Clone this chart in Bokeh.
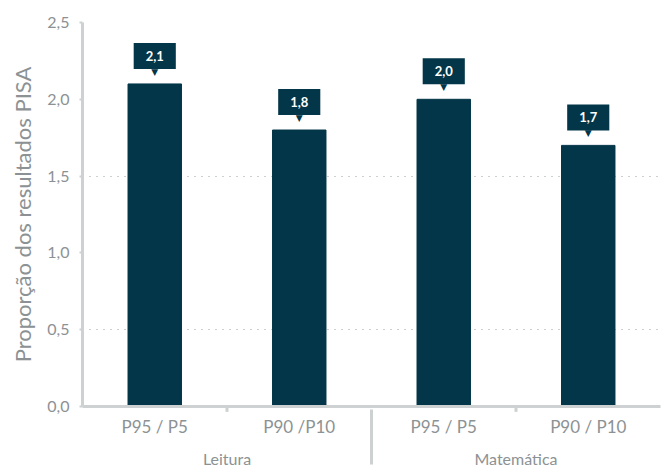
from bokeh.plotting import figure
from bokeh.models import FactorRange, Range1d, FixedTicker, ColumnDataSource
from bokeh.core.properties import value
from bokeh.embed import file_html
from bokeh.resources import INLINE

groups = ["Leitura", "Leitura", "Matemática", "Matemática"]
subcats = ["P95 / P5", "P90 /P10", "P95 / P5", "P90 / P10"]
values = [2.1, 1.8, 2.0, 1.7]
value_labels = ["2,1", "1,8", "2,0", "1,7"]
y_ticks = [0.0, 0.5, 1.0, 1.5, 2.0, 2.5]
y_tick_labels = ["0,0", "0,5", "1,0", "1,5", "2,0", "2,5"]
grid_values = [0.5, 1.5, 2.5]

factors = list(zip(groups, subcats))
BAR = "#033648"
AXIS = "#cdd1d1"
TXT = "#8c9294"
FONT = "Lato"

x_range = FactorRange(*factors, group_padding=0, factor_padding=0, range_padding=0)
p = figure(x_range=x_range, y_range=Range1d(0, 2.5), width=662, height=470,
           output_backend="svg", toolbar_location=None,
           min_border_left=82, min_border_right=2, min_border_top=22, min_border_bottom=58)
p.outline_line_color = None
p.background_fill_color = "white"

src = ColumnDataSource(dict(x=factors, top=values, lab=value_labels))
p.vbar(x="x", top="top", width=0.37, source=src, color=BAR)

# value boxes with pointer
p.text(x="x", y="top", text="lab", source=src, y_offset=-28,
       text_align="center", text_baseline="middle", text_color="white",
       text_font=value(FONT), text_font_style="bold", text_font_size="13px",
       background_fill_color=BAR, padding=[12, 8])
tri_src = ColumnDataSource(dict(x=factors, top=values, tri=["▼"] * len(values)))
p.text(x="x", y="top", text="tri", source=tri_src,
       y_offset=-12, text_align="center", text_baseline="middle", text_color=BAR,
       text_font=value("DejaVu Sans"), text_font_size="9px")

# y axis
p.yaxis.ticker = FixedTicker(ticks=y_ticks)
p.yaxis.major_label_overrides = {t: l for t, l in zip(y_ticks, y_tick_labels)}
p.yaxis.axis_label = "Proporção dos resultados PISA"
p.yaxis.axis_label_text_font = FONT
p.yaxis.axis_label_text_font_style = "normal"
p.yaxis.axis_label_text_font_size = "22px"
p.yaxis.axis_label_text_color = TXT
p.yaxis.axis_label_standoff = 8
p.yaxis.major_label_text_font = FONT
p.yaxis.major_label_text_font_size = "16px"
p.yaxis.major_label_text_color = TXT
p.yaxis.major_label_standoff = 10
p.yaxis.axis_line_color = AXIS
p.yaxis.axis_line_width = 3
p.yaxis.major_tick_line_color = AXIS
p.yaxis.major_tick_line_width = 2
p.yaxis.major_tick_out = 3
p.yaxis.major_tick_in = 0
p.yaxis.minor_tick_line_color = None

# x axis
p.xaxis.axis_line_color = AXIS
p.xaxis.axis_line_width = 3
p.xaxis.major_tick_line_color = None
p.xaxis.major_tick_out = 0
p.xaxis.major_tick_in = 0
p.xaxis.minor_tick_line_color = None
p.xaxis.major_label_text_font = FONT
p.xaxis.major_label_text_font_size = "17px"
p.xaxis.major_label_text_color = TXT
p.xaxis.group_text_font = FONT
p.xaxis.group_text_font_size = "16px"
p.xaxis.group_text_font_style = "normal"
p.xaxis.group_text_color = TXT
p.xaxis.separator_line_color = AXIS
p.xaxis.separator_line_width = 3
p.xaxis.major_label_standoff = 9

# small ticks between subcategories
tick_src = ColumnDataSource(dict(x=[(g, s, 0.5) for g, s in zip(groups[::2], subcats[::2])]))
p.segment(x0="x", x1="x", y0=0, y1=-0.035, source=tick_src, line_color=AXIS, line_width=3, level="overlay")

p.xgrid.grid_line_color = None
p.ygrid.ticker = FixedTicker(ticks=grid_values)
p.ygrid.grid_line_color = "#9aa0a2"
p.ygrid.grid_line_dash = "1 6"
p.ygrid.grid_line_width = 1

open("out.html", "w").write(file_html(p, INLINE))
